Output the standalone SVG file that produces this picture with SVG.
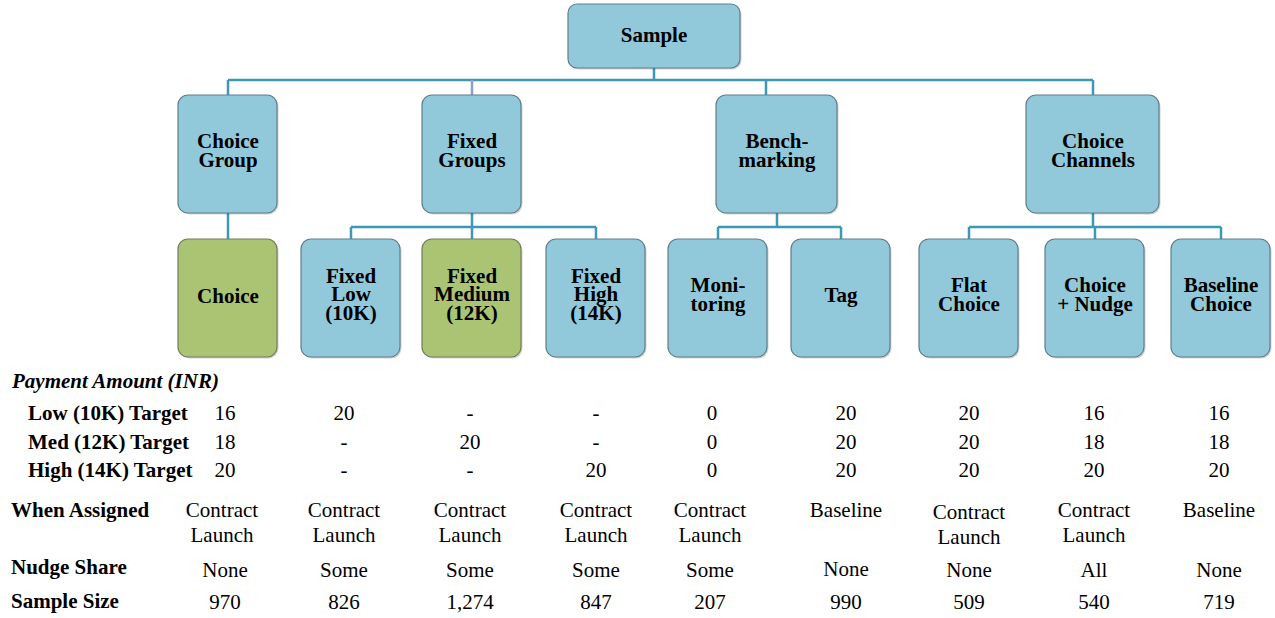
<svg xmlns="http://www.w3.org/2000/svg" width="1275" height="618" viewBox="0 0 1275 618">
<g id="connectors" fill="none" stroke="#3b99b6" stroke-width="2.5">
<path d="M654 68 V80 M228 80 H1093 M228 80 V95 M766 80 V95 M1093 80 V95"/>
<path d="M472 80 V95" stroke="#8a9ed2"/>
<path d="M228 213 V239"/>
<path d="M472 213 V227 M351 227 H596 M351 227 V239 M472 227 V239 M596 227 V239"/>
<path d="M777 213 V227 M718 227 H841 M718 227 V239 M841 227 V239"/>
<path d="M1093 213 V227 M969 227 H1221 M969 227 V239 M1095 227 V239 M1221 227 V239"/>
</g>
<g id="shadows" fill="#000" fill-opacity="0.18">
<rect x="569.5" y="5.5" width="172" height="64" rx="9"/>
<rect x="179.5" y="96.5" width="99" height="118" rx="10"/><rect x="423.5" y="96.5" width="99" height="118" rx="10"/><rect x="717.5" y="96.5" width="121" height="118" rx="10"/><rect x="1027.5" y="96.5" width="133" height="118" rx="10"/>
<rect x="179.5" y="240.5" width="99" height="118" rx="10"/><rect x="302.5" y="240.5" width="99" height="118" rx="10"/><rect x="423.5" y="240.5" width="99" height="118" rx="10"/><rect x="547.5" y="240.5" width="99" height="118" rx="10"/><rect x="669.5" y="240.5" width="99" height="118" rx="10"/><rect x="792.5" y="240.5" width="99" height="118" rx="10"/><rect x="920.5" y="240.5" width="99" height="118" rx="10"/><rect x="1046.5" y="240.5" width="99" height="118" rx="10"/><rect x="1172.5" y="240.5" width="99" height="118" rx="10"/>
</g>
<g fill="#92c9da" stroke="#5f7f8a" stroke-width="1.2" font-weight="bold" font-size="21" text-anchor="middle">
<g id="sample"><rect x="568" y="4" width="172" height="64" rx="9"/><text font-family="Liberation Serif" fill="#000" stroke="none" x="654" y="42">Sample</text></g>
<g id="choice-group"><rect x="178" y="95" width="99" height="118" rx="10"/><text font-family="Liberation Serif" fill="#000" stroke="none" x="228" y="148">Choice</text><text font-family="Liberation Serif" fill="#000" stroke="none" x="228" y="167">Group</text></g>
<g id="fixed-groups"><rect x="422" y="95" width="99" height="118" rx="10"/><text font-family="Liberation Serif" fill="#000" stroke="none" x="472" y="148">Fixed</text><text font-family="Liberation Serif" fill="#000" stroke="none" x="472" y="167">Groups</text></g>
<g id="benchmarking"><rect x="716" y="95" width="121" height="118" rx="10"/><text font-family="Liberation Serif" fill="#000" stroke="none" x="777" y="148">Bench-</text><text font-family="Liberation Serif" fill="#000" stroke="none" x="777" y="167">marking</text></g>
<g id="choice-channels"><rect x="1026" y="95" width="133" height="118" rx="10"/><text font-family="Liberation Serif" fill="#000" stroke="none" x="1093" y="148">Choice</text><text font-family="Liberation Serif" fill="#000" stroke="none" x="1093" y="167">Channels</text></g>
<g id="choice"><rect fill="#aac473" stroke="#6f7f5a" x="178" y="239" width="99" height="118" rx="10"/><text font-family="Liberation Serif" fill="#000" stroke="none" x="228" y="303">Choice</text></g>
<g id="fixed-low"><rect x="301" y="239" width="99" height="118" rx="10"/><text font-family="Liberation Serif" fill="#000" stroke="none" x="351" y="283">Fixed</text><text font-family="Liberation Serif" fill="#000" stroke="none" x="351" y="301">Low</text><text font-family="Liberation Serif" fill="#000" stroke="none" x="351" y="320">(10K)</text></g>
<g id="fixed-medium"><rect fill="#aac473" stroke="#6f7f5a" x="422" y="239" width="99" height="118" rx="10"/><text font-family="Liberation Serif" fill="#000" stroke="none" x="472" y="283">Fixed</text><text font-family="Liberation Serif" fill="#000" stroke="none" x="472" y="301">Medium</text><text font-family="Liberation Serif" fill="#000" stroke="none" x="472" y="320">(12K)</text></g>
<g id="fixed-high"><rect x="546" y="239" width="99" height="118" rx="10"/><text font-family="Liberation Serif" fill="#000" stroke="none" x="596" y="283">Fixed</text><text font-family="Liberation Serif" fill="#000" stroke="none" x="596" y="301">High</text><text font-family="Liberation Serif" fill="#000" stroke="none" x="596" y="320">(14K)</text></g>
<g id="monitoring"><rect x="668" y="239" width="99" height="118" rx="10"/><text font-family="Liberation Serif" fill="#000" stroke="none" x="718" y="292">Moni-</text><text font-family="Liberation Serif" fill="#000" stroke="none" x="718" y="311">toring</text></g>
<g id="tag"><rect x="791" y="239" width="99" height="118" rx="10"/><text font-family="Liberation Serif" fill="#000" stroke="none" x="841" y="302">Tag</text></g>
<g id="flat-choice"><rect x="919" y="239" width="99" height="118" rx="10"/><text font-family="Liberation Serif" fill="#000" stroke="none" x="969" y="292">Flat</text><text font-family="Liberation Serif" fill="#000" stroke="none" x="969" y="311">Choice</text></g>
<g id="choice-nudge"><rect x="1045" y="239" width="99" height="118" rx="10"/><text font-family="Liberation Serif" fill="#000" stroke="none" x="1095" y="292">Choice</text><text font-family="Liberation Serif" fill="#000" stroke="none" x="1095" y="311">+ Nudge</text></g>
<g id="baseline-choice"><rect x="1171" y="239" width="99" height="118" rx="10"/><text font-family="Liberation Serif" fill="#000" stroke="none" x="1221" y="292">Baseline</text><text font-family="Liberation Serif" fill="#000" stroke="none" x="1221" y="311">Choice</text></g>
</g>
<g id="table" font-size="21" fill="#000">
<g font-weight="bold">
<text font-family="Liberation Serif" font-style="italic" x="12" y="388">Payment Amount (INR)</text>
<text font-family="Liberation Serif" x="28" y="420">Low (10K) Target</text>
<text font-family="Liberation Serif" x="28" y="449">Med (12K) Target</text>
<text font-family="Liberation Serif" x="28" y="477">High (14K) Target</text>
<text font-family="Liberation Serif" x="11" y="517">When Assigned</text>
<text font-family="Liberation Serif" x="11" y="574">Nudge Share</text>
<text font-family="Liberation Serif" x="11" y="608">Sample Size</text>
</g>
<g text-anchor="middle">
<text font-family="Liberation Serif" x="225" y="420">16</text><text font-family="Liberation Serif" x="344" y="420">20</text><text font-family="Liberation Serif" x="470" y="420">-</text><text font-family="Liberation Serif" x="596" y="420">-</text><text font-family="Liberation Serif" x="712" y="420">0</text><text font-family="Liberation Serif" x="846" y="420">20</text><text font-family="Liberation Serif" x="969" y="420">20</text><text font-family="Liberation Serif" x="1094" y="420">16</text><text font-family="Liberation Serif" x="1219" y="420">16</text>
<text font-family="Liberation Serif" x="225" y="449">18</text><text font-family="Liberation Serif" x="344" y="449">-</text><text font-family="Liberation Serif" x="470" y="449">20</text><text font-family="Liberation Serif" x="596" y="449">-</text><text font-family="Liberation Serif" x="712" y="449">0</text><text font-family="Liberation Serif" x="846" y="449">20</text><text font-family="Liberation Serif" x="969" y="449">20</text><text font-family="Liberation Serif" x="1094" y="449">18</text><text font-family="Liberation Serif" x="1219" y="449">18</text>
<text font-family="Liberation Serif" x="225" y="477">20</text><text font-family="Liberation Serif" x="344" y="477">-</text><text font-family="Liberation Serif" x="470" y="477">-</text><text font-family="Liberation Serif" x="596" y="477">20</text><text font-family="Liberation Serif" x="712" y="477">0</text><text font-family="Liberation Serif" x="846" y="477">20</text><text font-family="Liberation Serif" x="969" y="477">20</text><text font-family="Liberation Serif" x="1094" y="477">20</text><text font-family="Liberation Serif" x="1219" y="477">20</text>
<text font-family="Liberation Serif" x="222" y="517">Contract</text><text font-family="Liberation Serif" x="222" y="542">Launch</text>
<text font-family="Liberation Serif" x="344" y="517">Contract</text><text font-family="Liberation Serif" x="344" y="542">Launch</text>
<text font-family="Liberation Serif" x="470" y="517">Contract</text><text font-family="Liberation Serif" x="470" y="542">Launch</text>
<text font-family="Liberation Serif" x="596" y="517">Contract</text><text font-family="Liberation Serif" x="596" y="542">Launch</text>
<text font-family="Liberation Serif" x="710" y="517">Contract</text><text font-family="Liberation Serif" x="710" y="542">Launch</text>
<text font-family="Liberation Serif" x="846" y="517">Baseline</text>
<text font-family="Liberation Serif" x="969" y="519">Contract</text><text font-family="Liberation Serif" x="969" y="544">Launch</text>
<text font-family="Liberation Serif" x="1094" y="517">Contract</text><text font-family="Liberation Serif" x="1094" y="542">Launch</text>
<text font-family="Liberation Serif" x="1219" y="517">Baseline</text>
<text font-family="Liberation Serif" x="225" y="577">None</text><text font-family="Liberation Serif" x="344" y="577">Some</text><text font-family="Liberation Serif" x="470" y="577">Some</text><text font-family="Liberation Serif" x="596" y="577">Some</text><text font-family="Liberation Serif" x="710" y="577">Some</text><text font-family="Liberation Serif" x="846" y="576">None</text><text font-family="Liberation Serif" x="969" y="577">None</text><text font-family="Liberation Serif" x="1094" y="577">All</text><text font-family="Liberation Serif" x="1219" y="577">None</text>
<text font-family="Liberation Serif" x="225" y="609">970</text><text font-family="Liberation Serif" x="344" y="609">826</text><text font-family="Liberation Serif" x="470" y="609">1,274</text><text font-family="Liberation Serif" x="596" y="609">847</text><text font-family="Liberation Serif" x="710" y="609">207</text><text font-family="Liberation Serif" x="846" y="609">990</text><text font-family="Liberation Serif" x="969" y="609">509</text><text font-family="Liberation Serif" x="1094" y="609">540</text><text font-family="Liberation Serif" x="1219" y="609">719</text>
</g>
</g>
</svg>
